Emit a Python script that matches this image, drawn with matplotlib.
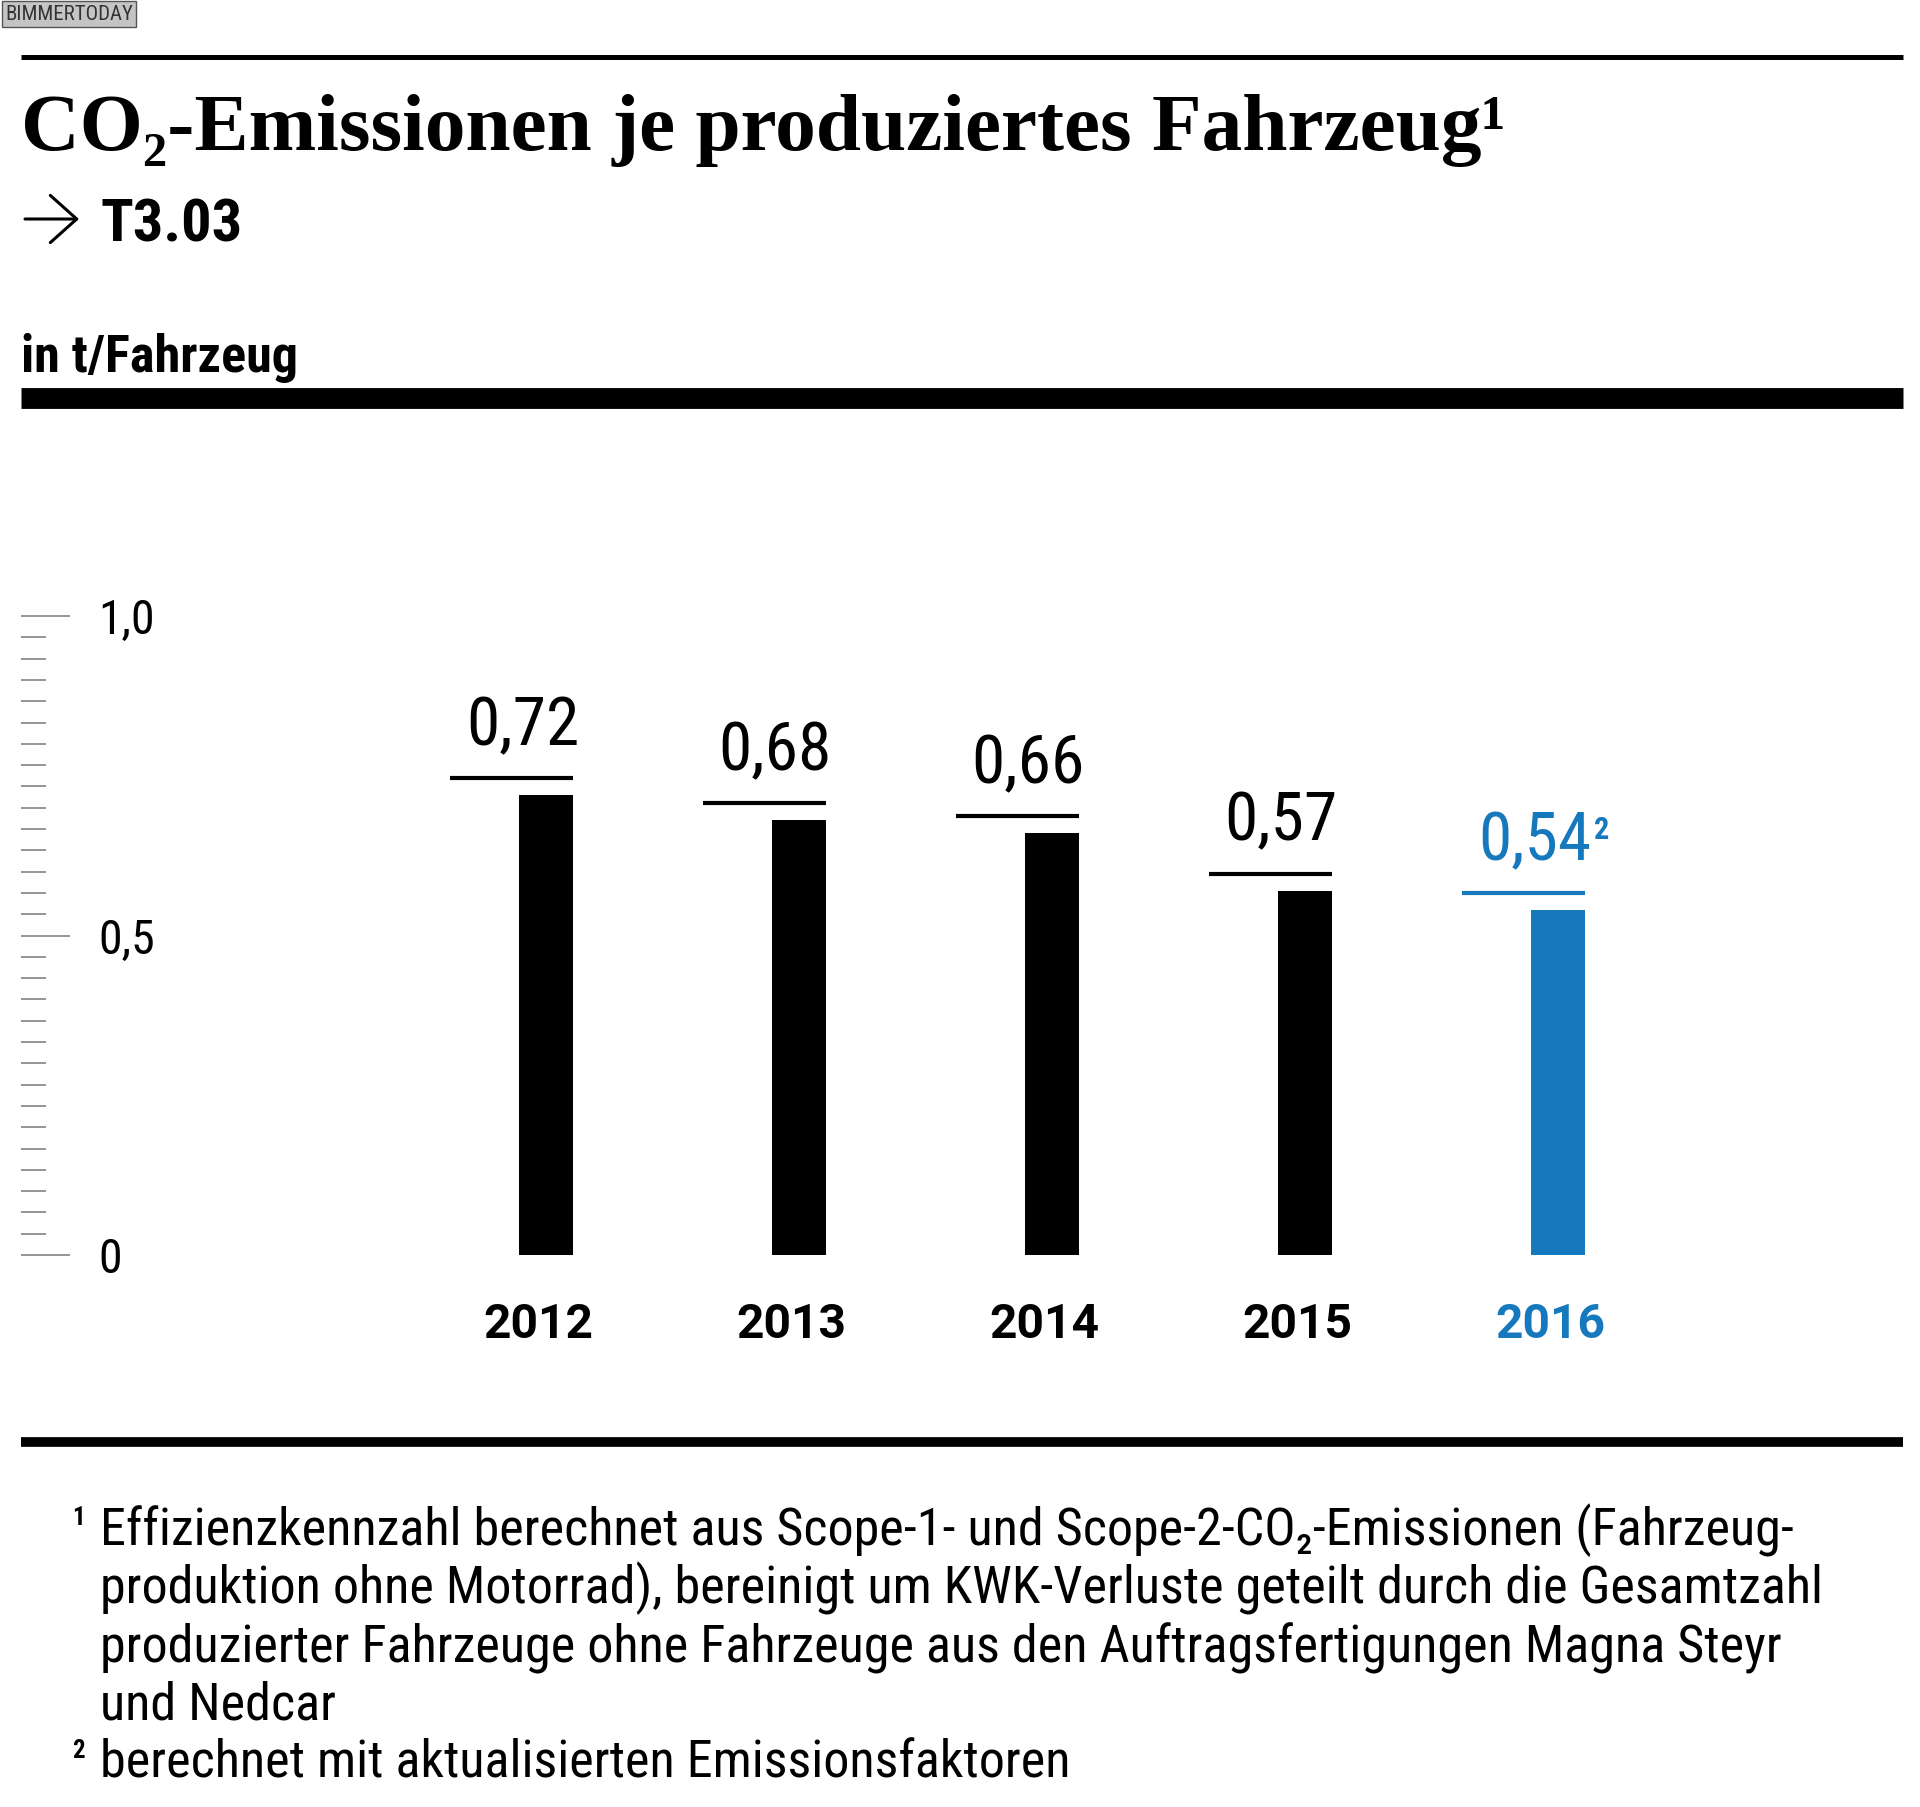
import matplotlib
matplotlib.use('Agg')
import numpy as np
import matplotlib.pyplot as plt
from matplotlib.lines import Line2D
from matplotlib.patches import FancyArrowPatch
from matplotlib.ticker import FixedLocator
from matplotlib import font_manager

# Daten
years = ['2012', '2013', '2014', '2015', '2016']
values = [0.72, 0.68, 0.66, 0.57, 0.54]
value_labels = ['0,72', '0,68', '0,66', '0,57', '0,54']
bar_colors = ['black', 'black', 'black', 'black', '#1779bd']
ytick_vals = [0, 0.5, 1.0]
ytick_labels = ['0', '0,5', '1,0']
notes = [
    'Effizienzkennzahl berechnet aus Scope-1- und Scope-2-CO₂-Emissionen (Fahrzeug-',
    'produktion ohne Motorrad), bereinigt um KWK-Verluste geteilt durch die Gesamtzahl',
    'produzierter Fahrzeuge ohne Fahrzeuge aus den Auftragsfertigungen Magna Steyr',
    'und Nedcar',
    'berechnet mit aktualisierten Emissionsfaktoren',
]


def weight_num(w):
    if isinstance(w, str):
        return {'bold': 700, 'normal': 400, 'regular': 400}.get(w.lower(), 400)
    return int(w)


def pick(cands):
    for c in cands:
        ws = {weight_num(f.weight) for f in font_manager.fontManager.ttflist
              if f.name == c and f.style == 'normal'}
        if 400 in ws and 700 in ws:
            return c
    return None


cond = pick(['Roboto Condensed', 'Archivo Narrow', 'PT Sans Narrow', 'Fira Sans Condensed',
             'IBM Plex Sans Condensed', 'Asap Condensed'])
if cond:
    NK = dict(family=[cond, 'DejaVu Sans'])
else:
    NK = dict(family='DejaVu Sans', fontstretch='condensed')
wide = pick(['Roboto', 'Liberation Sans'])
WK = dict(family=[wide or 'DejaVu Sans', 'DejaVu Sans'])
SERIF = ['Liberation Serif', 'DejaVu Serif']
BLUE = '#1779bd'

W, H = 1920, 1807
fig = plt.figure(figsize=(W / 100, H / 100), dpi=100)


def fx(px):
    return px / W


def fy(px):
    return 1 - px / H


def rule(y, lw):
    fig.add_artist(Line2D([fx(21), fx(1903)], [fy(y), fy(y)], color='black', lw=lw,
                          solid_capstyle='butt', transform=fig.transFigure))


# Kopfbereich
fig.text(fx(5), fy(14), 'BIMMERTODAY', **NK, fontsize=15, color='#333333', va='center',
         bbox=dict(boxstyle='square,pad=0.15', facecolor='#c4c4c4', edgecolor='#555555', lw=1))
rule(57, 3.6)
fig.text(fx(21), fy(150), 'CO₂-Emissionen je produziertes Fahrzeug¹', family=SERIF,
         fontweight='bold', fontsize=58.5, va='baseline')
fig.add_artist(FancyArrowPatch((fx(25), fy(219)), (fx(79), fy(219)), transform=fig.transFigure,
                               arrowstyle='->,head_length=19,head_width=17', mutation_scale=1,
                               lw=2.2, color='black', shrinkA=0, shrinkB=0))
fig.text(fx(100), fy(242), 'T3.03', **NK, fontweight='bold', fontsize=43.5, va='baseline')
fig.text(fx(21), fy(372), 'in t/Fahrzeug', **NK, fontweight='bold', fontsize=37.5, va='baseline')
rule(398, 15)
rule(1442, 7)

# Diagramm
px_per_unit = 639
ax_bottom, ax_top = 1255, 560
ax = fig.add_axes([fx(21), fy(ax_bottom), fx(1903) - fx(21), (ax_bottom - ax_top) / H])
ax.patch.set_alpha(0)
for s in ax.spines.values():
    s.set_visible(False)

step = 253
x = list(range(len(years)))
bar_w = 54 / step
ax.bar(x, values, width=bar_w, color=bar_colors)
ax.set_xlim((21 - 546) / step, (1903 - 546) / step)
ax.set_ylim(0, (ax_bottom - ax_top) / px_per_unit)

gap = 17 / px_per_unit
for xi, v, lab, c in zip(x, values, value_labels, bar_colors):
    right = xi + bar_w / 2
    ax.hlines(v + gap, right - 123 / step, right, color=c, lw=3)
    ax.annotate(lab, xy=(right, v + gap), xytext=(6, 33), textcoords='offset pixels',
                ha='right', va='baseline', color=c, **NK, fontsize=48.5)
    ax.annotate(years[xi], xy=(xi, 0), xytext=(-8, -47), textcoords='offset pixels',
                ha='center', va='top', color=c, **WK, fontweight='bold', fontsize=34.5)
# Fußnote 2 am letzten Wert
ax.annotate('2', xy=(x[-1] + bar_w / 2, values[-1] + gap), xytext=(9, 78),
            textcoords='offset pixels', ha='left', va='top', color=BLUE, **NK,
            fontweight='bold', fontsize=22)

ax.set_yticks(ytick_vals)
ax.set_yticklabels(ytick_labels, **NK, fontsize=34.4)
ax.yaxis.set_minor_locator(FixedLocator(np.arange(0, 1.001, 1 / 30)))
ax.tick_params(axis='y', which='major', direction='in', length=35, width=1.3, color='#8c8c8c', pad=-55.5)
ax.tick_params(axis='y', which='minor', direction='in', length=18, width=1.3, color='#8c8c8c')
for t in ax.get_yticklabels():
    t.set_horizontalalignment('left')
ax.set_xticks([])

# Fußnoten
baselines = [1545, 1603, 1662, 1720, 1778]
for txt, b in zip(notes, baselines):
    fig.text(fx(100), fy(b), txt, **NK, fontsize=37.5, va='baseline')
fig.text(fx(72), fy(1506), '1', **NK, fontweight='bold', fontsize=18, va='top')
fig.text(fx(72), fy(1739), '2', **NK, fontweight='bold', fontsize=18, va='top')

fig.savefig('out.png', dpi=100)
